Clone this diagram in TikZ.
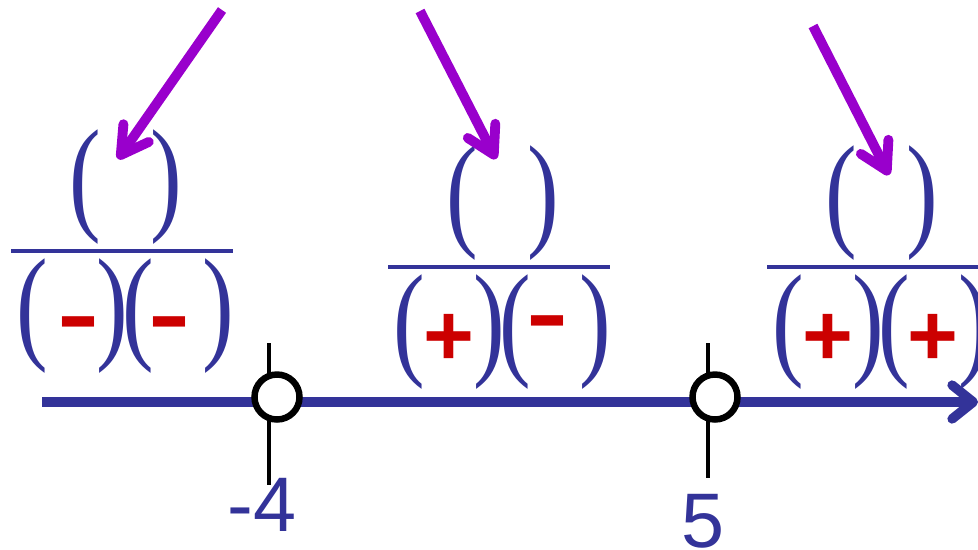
\documentclass[tikz,border=0pt]{standalone}
\usepackage{fontspec}
\usepackage{graphicx}
\setmainfont{Liberation Serif}
\newfontfamily\signfont{Liberation Sans}
\usetikzlibrary{arrows.meta,positioning,calc}
\definecolor{AxBlue}{RGB}{51,51,153}
\definecolor{SgRed}{RGB}{204,0,0}
\definecolor{PtPurple}{RGB}{153,0,204}
\newcommand{\lp}{\scalebox{0.75}[1]{(}}
\newcommand{\rp}{\scalebox{0.75}[1]{)}}
\tikzset{
  paren/.style={inner sep=0pt,text=AxBlue,font=\fontsize{90}{90}\selectfont},
  plus/.style={inner sep=0pt,text=SgRed,font=\signfont\bfseries\fontsize{62}{62}\selectfont},
  minus/.style={inner sep=0pt,text=SgRed,font=\signfont\bfseries\fontsize{62}{62}\selectfont},
  fbar/.style={AxBlue,line width=2.8pt},
  numline/.style={AxBlue,line width=6.8pt,-{Straight Barb[length=15pt,width=24pt,round]}},
  hint/.style={PtPurple,line width=7pt,-{Straight Barb[length=19pt,width=22pt,round]}},
  tick/.style={black,line width=2.8pt},
  hole/.style={circle,draw=black,fill=white,line width=4.6pt,minimum size=1.125cm,inner sep=0pt},
  root/.style={inner sep=0pt,text=AxBlue,font=\signfont\fontsize{55}{55}\selectfont},
}
\begin{document}
\begin{tikzpicture}[x=0.025cm,y=-0.025cm]
  \useasboundingbox (0,0) rectangle (978,549);
  % sign chart fractions
  \foreach \f/\cx/\cy in {a/125/251, b/502/267, c/881/267}{
    \draw[fbar] (\cx-114,\cy) -- (\cx+108,\cy);
    \node[paren] (\f nl) at (\cx-40,\cy-64) {\lp};
    \node[paren] (\f nr) at (\cx+41,\cy-64) {\rp};
    \node[paren] (\f dl) at (\cx-93,\cy+65) {\lp};
    \node[paren] (\f dm) at (\cx-13,\cy+65) {\rp};
    \node[paren] (\f dn) at (\cx+13,\cy+65) {\lp};
    \node[paren] (\f dr) at (\cx+93,\cy+65) {\rp};
  }
  \node[minus] (as1) at (79,331) {\scalebox{1.45}[1]{-}};
  \node[minus] (as2) at (170,331) {\scalebox{1.45}[1]{-}};
  \node[plus] (bs1) at (449,340) {+};
  \node[minus] (bs2) at (548,330) {\scalebox{1.45}[1]{-}};
  \node[plus] (cs1) at (828,340) {+};
  \node[plus] (cs2) at (933,340) {+};
  % number line
  \coordinate (start) at (42,402);
  \coordinate (end) at (978,402);
  \draw[tick] (269,343) -- (269,485);
  \draw[tick] (708,343) -- (708,478);
  \draw[numline] (start) -- (end);
  \node[hole] (p1) at (277,397) {};
  \node[hole] (p2) at (715,397) {};
  \node[root] (r1) at (262,505) {-4};
  \node[root] (r2) at (703,521) {5};
  % pointers
  \coordinate (t1) at (222,10);  \coordinate (h1) at (118,159);
  \coordinate (t2) at (420,11);  \coordinate (h2) at (496,159);
  \coordinate (t3) at (813,26);  \coordinate (h3) at (889,175);
  \draw[hint] (t1) -- (h1);
  \draw[hint] (t2) -- (h2);
  \draw[hint] (t3) -- (h3);
\end{tikzpicture}
\end{document}
